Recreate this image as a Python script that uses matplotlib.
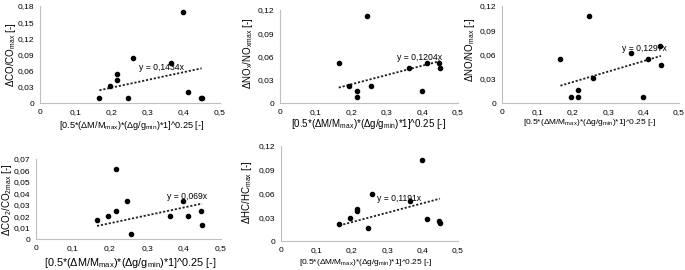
import matplotlib
matplotlib.use('Agg')
import matplotlib.pyplot as plt
from matplotlib.ticker import FuncFormatter
import numpy as np

plt.rcParams['font.family'] = ['Liberation Sans', 'DejaVu Sans']
plt.rcParams['mathtext.fontset'] = 'custom'
plt.rcParams['mathtext.rm'] = 'Liberation Sans'
plt.rcParams['mathtext.it'] = 'Liberation Sans:italic'

# shared x values (same tests in every panel)
x_vals = [0.165, 0.195, 0.215, 0.215, 0.245, 0.257, 0.363, 0.398, 0.412, 0.447, 0.449]

co = [0.010, 0.031, 0.053, 0.042, 0.010, 0.084, 0.074, 0.168, 0.021, 0.010, 0.010]
nox = [0.052, 0.022, 0.015, 0.008, 0.112, 0.022, 0.045, 0.015, 0.052, 0.052, 0.045]
no = [0.054, 0.008, 0.016, 0.008, 0.108, 0.031, 0.062, 0.008, 0.054, 0.070, 0.047]
co2 = [0.0165, 0.0205, 0.061, 0.0245, 0.033, 0.004, 0.0205, 0.033, 0.0205, 0.0245, 0.012]
hc = [0.022, 0.029, 0.040, 0.038, 0.016, 0.059, 0.050, 0.102, 0.028, 0.025, 0.023]

slopes = [0.1434, 0.1204, 0.1297, 0.069, 0.1191]
slope_labels = ['y = 0,1434x', 'y = 0,1204x', 'y = 0,1297x', 'y = 0,069x', 'y = 0,1191x']
ylabels = [r'ΔCO/CO$_{\mathrm{max}}$ [-]', r'ΔNO$_{\mathrm{x}}$/NO$_{\mathrm{xmax}}$ [-]',
           r'ΔNO/NO$_{\mathrm{max}}$ [-]', r'ΔCO$_{\mathrm{2}}$/CO$_{\mathrm{2max}}$ [-]',
           r'ΔHC/HC$_{\mathrm{max}}$ [-]']
xlabel = r'[0.5*(ΔM/M$_{\mathrm{max}}$)*(Δg/g$_{\mathrm{min}}$)*1]^0.25 [-]'
ymax = [0.18, 0.12, 0.12, 0.07, 0.12]
ystep = [0.03, 0.03, 0.03, 0.01, 0.03]
label_pos = [(0.275, 0.065), (0.33, 0.059), (0.34, 0.068), (0.355, 0.037), (0.272, 0.054)]
series = [co, nox, no, co2, hc]

W, H = 685, 270
fig = plt.figure(figsize=(W / 100, H / 100), dpi=100)

# pixel boxes: left, right, top, bottom
boxes = [(40, 220, 6, 103), (280, 458, 10, 103), (502, 679, 6, 103),
         (36, 221, 159, 239), (281, 458, 146, 241)]
# label centres in pixels: x label (x, y), y label (x, y)
xlab_xy = [(132, 125), (369, 124), (590, 123), (130, 263), (366, 263)]
ylab_xy = [(11, 55), (248, 53), (470, 50), (7, 200), (247, 192)]
xlab_size = [6.6, 7.0, 6.0, 7.8, 6.0]

def comma(v, pos):
    s = ('%.2f' % v).rstrip('0').rstrip('.')
    return s.replace('.', ',')

for i, (l, r, t, b) in enumerate(boxes):
    ax = fig.add_axes([l / W, 1 - b / H, (r - l) / W, (b - t) / H])
    ax.scatter(x_vals, series[i], s=9, color='black', zorder=3)
    xt = np.array([min(x_vals), max(x_vals)])
    ax.plot(xt, slopes[i] * xt, color='#222222', linestyle=(0, (1.2, 1.0)), linewidth=1.3)
    ax.text(label_pos[i][0], label_pos[i][1], slope_labels[i], fontsize=6.2,
            ha='left', va='center')
    ax.set_xlim(0, 0.5)
    ax.set_ylim(0, ymax[i])
    ax.set_xticks(np.arange(0, 0.51, 0.1))
    ax.set_yticks(np.arange(0, ymax[i] + 1e-9, ystep[i]))
    ax.xaxis.set_major_formatter(FuncFormatter(comma))
    ax.yaxis.set_major_formatter(FuncFormatter(comma))
    ax.tick_params(axis='both', length=0, labelsize=6, pad=4)
    for s in ['top', 'right']:
        ax.spines[s].set_visible(False)
    for s in ['left', 'bottom']:
        ax.spines[s].set_color('#bfbfbf')
        ax.spines[s].set_linewidth(0.8)
    ax.set_xlabel(xlabel, fontsize=xlab_size[i], va='center')
    ax.xaxis.set_label_coords(xlab_xy[i][0] / W, 1 - xlab_xy[i][1] / H, transform=fig.transFigure)
    ax.set_ylabel(ylabels[i], fontsize=7, va='center')
    ax.yaxis.set_label_coords(ylab_xy[i][0] / W, 1 - ylab_xy[i][1] / H, transform=fig.transFigure)

fig.savefig('out.png', dpi=100)
